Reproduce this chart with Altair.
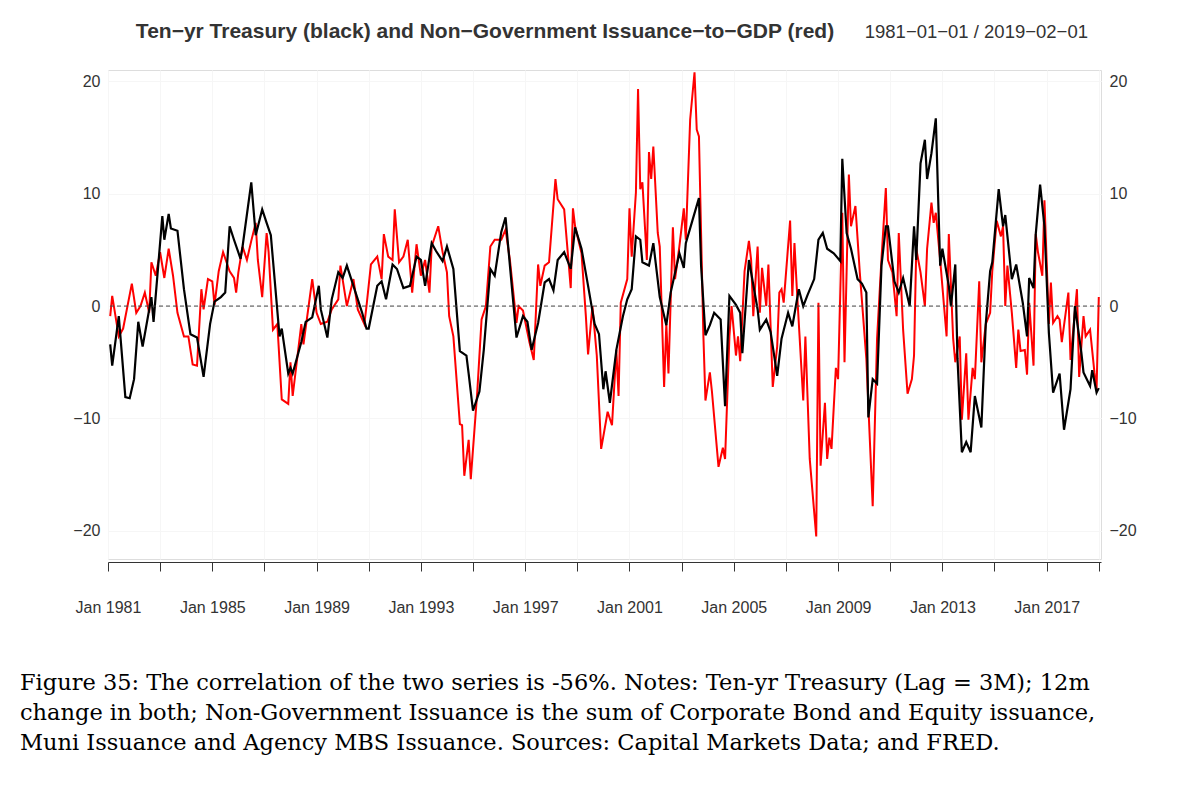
import pandas as pd
import altair as alt

# decimal-year positions and values
treasury_t = [1981.08, 1981.2, 1981.45, 1981.65, 1981.8, 1982.03, 1982.15, 1982.3, 1982.68, 1982.75,
              1983.05, 1983.15, 1983.3, 1983.45, 1983.7, 1983.95, 1984.15, 1984.4, 1984.65, 1984.9,
              1985.1, 1985.3, 1985.5, 1985.67, 1985.85, 1986.05, 1986.2, 1986.5, 1986.7, 1986.9,
              1987.1, 1987.27, 1987.58, 1987.7, 1987.96, 1988.03, 1988.1, 1988.42, 1988.6, 1988.85,
              1989.05, 1989.2, 1989.4, 1989.6, 1989.8, 1990.0, 1990.18, 1990.4, 1990.72, 1990.9,
              1991.0, 1991.33, 1991.5, 1991.7, 1991.95, 1992.1, 1992.36, 1992.55, 1992.8, 1993.0,
              1993.2, 1993.43, 1993.6, 1993.83, 1994.02, 1994.27, 1994.53, 1994.72, 1994.85, 1995.04,
              1995.23, 1995.42, 1995.68, 1995.84, 1996.06, 1996.25, 1996.44, 1996.7, 1996.89, 1996.97,
              1997.08, 1997.27, 1997.46, 1997.72, 1997.9, 1998.1, 1998.29, 1998.52, 1998.74, 1998.99,
              1999.19, 1999.44, 1999.63, 1999.82, 2000.01, 2000.08, 2000.27, 2000.46, 2000.71, 2000.9,
              2001.09, 2001.28, 2001.41, 2001.54, 2001.79, 2001.99, 2002.18, 2002.43, 2002.62, 2002.88,
              2003.07, 2003.2, 2003.45, 2003.64, 2003.77, 2003.9, 2004.09, 2004.28, 2004.47, 2004.64,
              2004.86, 2005.05, 2005.24, 2005.37, 2005.62, 2005.88, 2006.0, 2006.26, 2006.39, 2006.64,
              2006.84, 2007.09, 2007.25, 2007.48, 2007.67, 2007.86, 2008.05, 2008.24, 2008.39, 2008.62,
              2008.81, 2009.07, 2009.16, 2009.32, 2009.52, 2009.71, 2009.9, 2010.09, 2010.15, 2010.35,
              2010.47, 2010.64, 2010.82, 2010.98, 2011.17, 2011.3, 2011.49, 2011.71, 2011.9, 2012.0,
              2012.17, 2012.32, 2012.41, 2012.58, 2012.73, 2012.9, 2013.02, 2013.21, 2013.34, 2013.47,
              2013.6, 2013.72, 2013.91, 2014.1, 2014.29, 2014.49, 2014.68, 2014.8, 2014.99, 2015.19,
              2015.32, 2015.44, 2015.63, 2015.86, 2016.08, 2016.21, 2016.3, 2016.46, 2016.59, 2016.72,
              2016.91, 2017.1, 2017.29, 2017.48, 2017.7, 2017.93, 2018.12, 2018.31, 2018.44, 2018.63,
              2018.72, 2018.89, 2019.01]
treasury_v = [-3.4, -5.3, -0.9, -8.1, -8.2, -6.5, -1.4, -3.6, 0.8, -1.4,
              8.0, 5.9, 8.2, 6.9, 6.7, 1.5, -2.5, -2.8, -6.3, -1.6,
              0.4, 0.8, 1.2, 7.1, 5.9, 4.2, 5.3, 11.0, 6.3, 8.6,
              7.4, 6.3, -2.7, -2.0, -6.0, -5.5, -6.0, -3.2, -1.4, -1.0,
              1.8, -0.3, -2.8, 0.6, 3.0, 2.5, 3.6, 1.8, -0.6, -2.0,
              -2.0, 1.8, 2.2, 0.6, 3.7, 3.3, 1.6, 1.8, 4.4, 4.1,
              1.8, 5.6, 4.9, 4.0, 5.3, 3.3, -4.0, -4.4, -6.0, -9.3,
              -7.6, -3.9, 3.3, 2.7, 6.6, 7.9, 3.6, -2.8, -0.9, -2.4,
              -1.4, -3.9, -1.5, 2.1, 2.4, 1.4, 4.1, 4.8, 3.3, 7.0,
              5.1, 1.8, -1.6, -2.5, -7.4, -5.8, -8.6, -3.9, -0.9, 0.6,
              1.5, 6.2, 5.9, 3.9, 3.6, 5.6, 0.8, -1.7, 1.2, 4.7,
              3.4, 5.6, 7.6, 9.6, 3.6, -2.6, -1.7, -0.6, -1.2, -8.9,
              0.9, 0.1, -0.6, -4.2, 4.1, -0.3, -2.1, -1.2, -2.3, -6.2,
              -2.9, -0.6, -1.8, 1.5, 0.0, 1.0, 2.4, 5.9, 6.5, 5.1,
              4.7, 4.0, 13.1, 6.5, 5.1, 2.4, 2.0, 1.2, -9.9, -6.5,
              -6.9, 3.6, 7.1, 7.1, 2.2, 1.2, 2.5, 0.0, 7.1, 4.1,
              12.7, 14.8, 11.3, 13.6, 16.7, 3.6, 5.1, 1.8, 0.0, 3.7,
              -4.7, -13.0, -12.1, -13.0, -8.0, -10.8, -1.6, 3.1, 3.9, 10.4,
              7.1, 8.1, 2.4, 3.7, 0.3, -2.7, 2.5, 1.6, 6.4, 10.8,
              7.1, -2.4, -7.7, -6.0, -11.0, -7.4, 0.0, -4.1, -5.9, -7.1,
              -5.7, -7.7, -7.3]

issuance_t = [1981.08, 1981.2, 1981.4, 1981.6, 1981.9, 1982.05, 1982.25, 1982.4, 1982.55, 1982.7,
              1982.85, 1983.0, 1983.15, 1983.3, 1983.5, 1983.7, 1983.9, 1984.05, 1984.25, 1984.4,
              1984.55, 1984.7, 1984.85, 1985.0, 1985.1, 1985.25, 1985.45, 1985.65, 1985.8, 1985.95,
              1986.0, 1986.2, 1986.35, 1986.5, 1986.65, 1986.78, 1986.9, 1987.05, 1987.2, 1987.35,
              1987.5, 1987.65, 1987.7, 1987.9, 1988.0, 1988.1, 1988.4, 1988.5, 1988.85, 1989.0,
              1989.2, 1989.4, 1989.6, 1989.8, 1989.95, 1990.2, 1990.4, 1990.6, 1990.8, 1990.95,
              1991.1, 1991.3, 1991.5, 1991.6, 1991.75, 1991.95, 1992.0, 1992.2, 1992.35, 1992.5,
              1992.65, 1992.8, 1993.0, 1993.15, 1993.3, 1993.45, 1993.7, 1993.85, 1994.0, 1994.1,
              1994.27, 1994.46, 1994.6, 1994.7, 1994.85, 1994.94, 1995.17, 1995.36, 1995.49, 1995.68,
              1995.87, 1996.06, 1996.25, 1996.38, 1996.63, 1996.76, 1996.95, 1997.14, 1997.33, 1997.5,
              1997.6, 1997.72, 1997.9, 1998.16, 1998.29, 1998.48, 1998.74, 1998.87, 1998.99, 1999.19,
              1999.31, 1999.41, 1999.57, 1999.76, 1999.95, 2000.14, 2000.33, 2000.46, 2000.55, 2000.65,
              2000.9, 2001.03, 2001.12, 2001.25, 2001.32, 2001.41, 2001.48, 2001.67, 2001.76, 2001.83,
              2001.92, 2002.05, 2002.2, 2002.33, 2002.42, 2002.5, 2002.66, 2002.75, 2002.94, 2003.07,
              2003.16, 2003.33, 2003.49, 2003.58, 2003.67, 2003.84, 2003.99, 2004.09, 2004.2, 2004.41,
              2004.56, 2004.66, 2004.82, 2004.98, 2005.07, 2005.17, 2005.26, 2005.4, 2005.56, 2005.68,
              2005.77, 2005.9, 2006.0, 2006.09, 2006.22, 2006.35, 2006.48, 2006.64, 2006.76, 2006.84,
              2006.99, 2007.16, 2007.25, 2007.32, 2007.45, 2007.63, 2007.73, 2007.88, 2007.99, 2008.14,
              2008.24, 2008.37, 2008.5, 2008.58, 2008.68, 2008.77, 2008.94, 2009.0, 2009.13, 2009.24,
              2009.39, 2009.49, 2009.64, 2009.84, 2010.05, 2010.35, 2010.54, 2010.66, 2010.82, 2010.92,
              2011.11, 2011.24, 2011.3, 2011.49, 2011.68, 2011.81, 2011.94, 2012.04, 2012.17, 2012.32,
              2012.42, 2012.58, 2012.64, 2012.73, 2012.96, 2013.15, 2013.24, 2013.4, 2013.53, 2013.66,
              2013.78, 2013.9, 2014.0, 2014.17, 2014.27, 2014.38, 2014.49, 2014.68, 2014.87, 2014.94,
              2015.06, 2015.23, 2015.32, 2015.38, 2015.5, 2015.7, 2015.83, 2015.92, 2016.02, 2016.15,
              2016.23, 2016.33, 2016.46, 2016.59, 2016.68, 2016.81, 2016.97, 2017.06, 2017.14, 2017.27,
              2017.42, 2017.52, 2017.61, 2017.8, 2017.96, 2018.18, 2018.29, 2018.38, 2018.5, 2018.63,
              2018.82, 2018.91, 2019.04]
issuance_v = [-0.9, 0.9, -2.7, -2.0, 2.0, -0.6, 0.0, 1.2, -0.6, 3.9,
              2.7, 4.8, 2.5, 5.1, 2.7, -0.6, -2.7, -2.7, -5.2, -5.3,
              1.5, -0.3, 2.4, 2.2, 0.1, 3.1, 4.8, 3.1, 2.5, 1.2,
              3.0, 5.3, 4.1, 5.8, 7.4, 4.1, 0.8, 6.5, 4.8, -2.1,
              -1.6, -8.3, -0.9, -8.7, -5.0, -8.0, -1.6, -3.4, 2.4, -0.6,
              -1.6, -1.4, -0.3, 0.6, 3.6, 0.0, 2.4, -0.3, -1.6, 0.0,
              3.7, 4.4, 2.4, 6.4, 4.4, 4.1, 8.6, 3.9, 4.4, 5.9,
              1.2, 5.5, 2.7, 4.1, 1.2, 5.3, 7.1, 4.8, 3.0, -0.9,
              -2.7, -10.5, -10.6, -15.1, -11.9, -15.4, -7.7, -1.2, 0.0, 5.3,
              5.9, 5.9, 6.8, 4.1, -1.5, 0.0, -0.4, -3.2, -4.8, 3.7,
              1.8, 3.6, 3.9, 11.3, 9.5, 8.6, 1.6, 8.7, 7.1, 4.7,
              -0.9, -4.3, 0.0, -4.4, -12.7, -9.4, -10.6, -3.9, -8.0, 0.3,
              2.4, 8.7, 4.4, 10.1, 19.3, 10.4, 11.0, 4.1, 13.7, 11.3,
              14.2, 6.5, 5.3, -7.2, -1.6, -6.0, 7.0, 2.4, 5.3, 8.7,
              5.9, 16.6, 20.8, 15.7, 15.1, -2.4, -8.4, -5.9, -7.6, -14.3,
              -12.6, -13.6, -2.7, 0.0, -4.4, -2.7, -4.9, 3.1, 5.8, 4.1,
              -0.9, 5.3, -0.6, 3.4, 0.0, 3.7, -7.2, -3.6, 1.2, 1.5,
              0.3, 7.6, 0.9, 5.6, 1.8, -8.4, -2.7, -13.6, -6.2, -20.5,
              0.3, -14.2, -8.6, -13.6, -11.7, -12.7, -5.5, -6.5, 8.3, -5.0,
              11.7, 7.1, 8.9, 3.0, -4.7, -17.8, -2.9, 4.2, 10.5, 4.1,
              3.0, -0.9, 6.5, -2.1, -7.8, -6.5, -4.4, 5.1, 3.0, 0.0,
              5.1, 9.2, 7.4, 8.3, 4.1, -2.7, 6.4, -2.9, -5.0, -2.7,
              -10.1, -4.2, -10.1, -5.5, -6.5, 2.2, -5.0, -1.6, -0.6, 3.1,
              7.6, 6.2, 7.1, 0.0, 3.6, -0.6, -5.5, -2.1, -4.0, -3.9,
              -6.1, 0.3, -5.3, 6.4, 4.8, 2.7, 9.4, -1.6, 2.1, -1.5,
              -0.9, -1.2, -3.2, 1.2, -4.8, 1.5, -6.3, -0.9, -2.7, -2.1,
              -5.9, -7.4, 0.8]

title_main = "Ten\u2212yr Treasury (black) and Non\u2212Government Issuance\u2212to\u2212GDP (red)"
title_range = "1981\u221201\u221201 / 2019\u221202\u221201"
caption = [
    "Figure 35:  The correlation of the two series is -56%.  Notes:  Ten-yr Treasury (Lag = 3M); 12m",
    "change in both; Non-Government Issuance is the sum of Corporate Bond and Equity issuance,",
    "Muni Issuance and Agency MBS Issuance. Sources: Capital Markets Data; and FRED.",
]


def to_date(t):
    y = int(t)
    m = min(int(round((t - y) * 12)), 11) + 1
    return f"{y}-{m:02d}-01"


df_t = pd.DataFrame({"date": [to_date(t) for t in treasury_t], "value": treasury_v}).drop_duplicates("date")
df_i = pd.DataFrame({"date": [to_date(t) for t in issuance_t], "value": issuance_v}).drop_duplicates("date")

W, H = 993, 489
xdom = ["1981-01-01", "2019-02-01"]
ydom = [-22.5, 21]
years = [f"{y}-01-01" for y in range(1981, 2020)]

xscale = alt.Scale(type="utc", domain=xdom)
yscale = alt.Scale(domain=ydom, nice=False)
yaxis = dict(values=[-20, -10, 0, 10, 20], grid=True, gridColor="#f6f6f6", domain=False, ticks=False,
             labelFontSize=16, labelColor="#333", labelFont="Liberation Sans", title=None, labelPadding=8)

xaxis = alt.Axis(values=years, format="%Y", title=None, grid=True, gridColor="#f6f6f6",
                 labelExpr="(year(datum.value)-1981)%4==0 ? 'Jan ' + year(datum.value) : ''",
                 labelFontSize=16, labelColor="#333", labelFont="Liberation Sans", labelOverlap=False,
                 tickSize=9, tickColor="#333", domainColor="#333", labelPadding=28, offset=3,
                 labelFlush=False)

red = alt.Chart(df_i).mark_line(color="#ff0000", strokeWidth=2).encode(
    x=alt.X("date:T", scale=xscale, axis=xaxis),
    y=alt.Y("value:Q", scale=yscale, axis=alt.Axis(orient="left", **yaxis)),
)
black = alt.Chart(df_t).mark_line(color="black", strokeWidth=2.2).encode(
    x=alt.X("date:T", scale=xscale),
    y=alt.Y("value:Q", scale=yscale, axis=alt.Axis(orient="right", **yaxis)),
)
zero = alt.Chart(pd.DataFrame({"v": [0]})).mark_rule(color="#444", strokeDash=[4, 3], strokeWidth=1).encode(
    y=alt.Y("v:Q", scale=yscale, axis=None)
)

t_range = alt.Chart(pd.DataFrame({"t": [title_range]})).mark_text(
    align="right", fontSize=18.5, font="Liberation Sans", color="#333").encode(
    text="t:N", x=alt.value(980), y=alt.value(-38))
t_main = alt.Chart(pd.DataFrame({"t": [title_main]})).mark_text(
    align="center", fontSize=21, fontWeight="bold", font="Liberation Sans", color="#333").encode(
    text="t:N", x=alt.value(377), y=alt.value(-38))

cap_df = pd.DataFrame({"line": caption, "row": [0, 1, 2]})
cap = alt.Chart(cap_df).transform_calculate(py="613 + 30*datum.row").mark_text(
    align="left", baseline="middle", fontSize=22.5, font="DejaVu Serif", color="black").encode(
    text="line:N", x=alt.value(-88), y=alt.Y("py:Q", scale=None, axis=None))

chart = alt.layer(red, black, zero, t_range, t_main, cap).resolve_scale(y="independent").properties(
    width=W, height=H,
    autosize=alt.AutoSizeParams(type="none"),
    padding={"left": 100, "top": 62, "right": 95, "bottom": 215},
).configure_view(stroke=None).configure(background="white")

chart.save("out.html", embed_options={"renderer": "svg", "actions": False})
